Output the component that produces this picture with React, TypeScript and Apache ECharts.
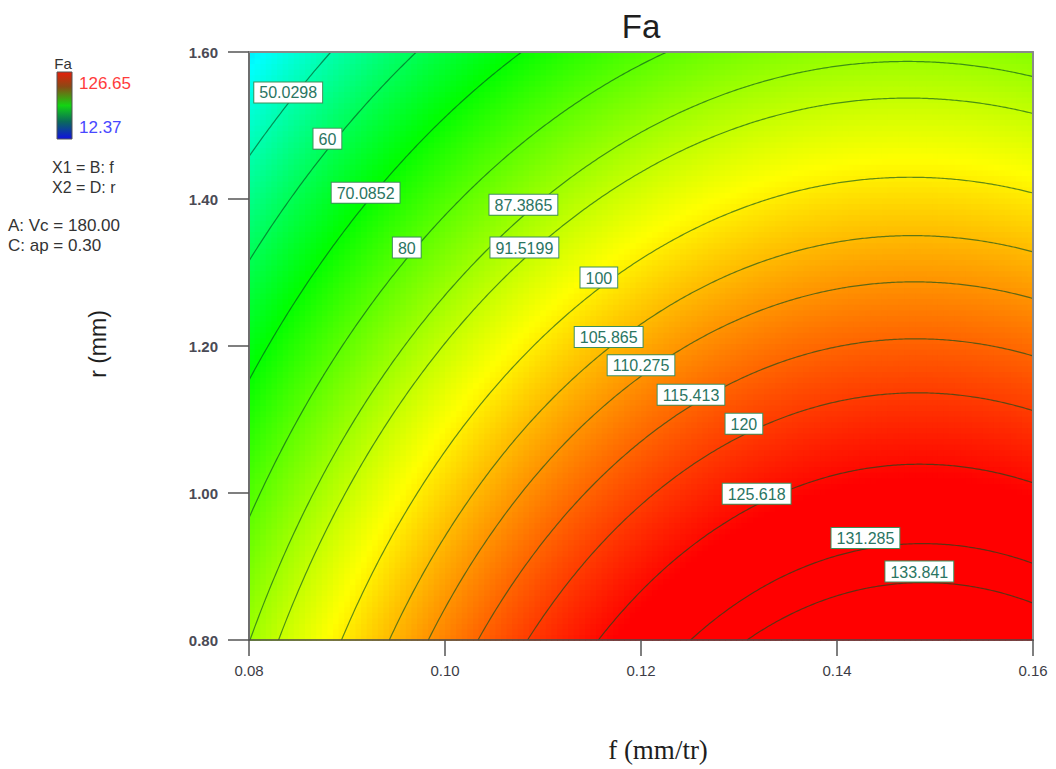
import React, { useEffect, useRef } from "react";
import * as echarts from "echarts";

// ---- data ----
const fValues = [0.08, 0.09, 0.1, 0.11, 0.12, 0.13, 0.14, 0.15, 0.16];
const rValues = [0.8, 0.9, 1.0, 1.1, 1.2, 1.3, 1.4, 1.5, 1.6];
// Fa at each (r row, f column)
const faGrid = [
  [87.24, 100.7, 112.06, 121.32, 128.47, 133.52, 136.48, 137.33, 136.08],
  [83.06, 96.47, 107.78, 116.98, 124.09, 129.09, 131.99, 132.79, 131.49],
  [78.35, 91.71, 102.96, 112.12, 119.17, 124.12, 126.97, 127.72, 126.37],
  [73.11, 86.42, 97.62, 106.73, 113.73, 118.63, 121.43, 122.13, 120.72],
  [67.34, 80.6, 91.75, 100.8, 107.75, 112.6, 115.35, 116.0, 114.55],
  [61.04, 74.25, 85.35, 94.35, 101.25, 106.05, 108.75, 109.35, 107.84],
  [54.22, 67.37, 78.42, 87.37, 94.22, 98.97, 101.62, 102.16, 100.61],
  [46.86, 59.96, 70.96, 79.86, 86.66, 91.36, 93.96, 94.45, 92.84],
  [38.97, 52.03, 62.98, 71.83, 78.57, 83.22, 85.77, 86.21, 84.55],
];
const contourLevels = [
  50.0298, 60, 70.0852, 80, 87.3865, 91.5199, 100, 105.865, 110.275, 115.413,
  120, 125.618, 131.285, 133.841,
];
const labelAtF = [
  0.084, 0.088, 0.0919, 0.0961, 0.108, 0.1081, 0.1157, 0.1167, 0.12, 0.1251,
  0.1305, 0.1318, 0.1429, 0.1484,
];
const xTickLabels = ["0.08", "0.10", "0.12", "0.14", "0.16"];
const yTickLabels = ["0.80", "1.00", "1.20", "1.40", "1.60"];
const legendMax = 126.65;
const legendMin = 12.37;
const factorNotes = ["X1 = B: f", "X2 = D: r"];
const actualFactors = ["A: Vc = 180.00", "C: ap = 0.30"];

// ---- helpers ----
const NF = fValues.length;
const NR = rValues.length;
const F0 = fValues[0];
const F1 = fValues[NF - 1];
const R0 = rValues[0];
const R1 = rValues[NR - 1];
const DFG = fValues[1] - fValues[0];
const DRG = rValues[1] - rValues[0];

function gridAt(i: number, j: number): number {
  if (i < 0) return 3 * gridAt(0, j) - 3 * gridAt(1, j) + gridAt(2, j);
  if (i > NF - 1) return 3 * gridAt(NF - 1, j) - 3 * gridAt(NF - 2, j) + gridAt(NF - 3, j);
  if (j < 0) return 3 * gridAt(i, 0) - 3 * gridAt(i, 1) + gridAt(i, 2);
  if (j > NR - 1) return 3 * gridAt(i, NR - 1) - 3 * gridAt(i, NR - 2) + gridAt(i, NR - 3);
  return faGrid[j][i];
}
function cr(p0: number, p1: number, p2: number, p3: number, t: number) {
  return 0.5 * (2 * p1 + (-p0 + p2) * t + (2 * p0 - 5 * p1 + 4 * p2 - p3) * t * t + (-p0 + 3 * p1 - 3 * p2 + p3) * t * t * t);
}
function faAt(f: number, r: number): number {
  const u = (f - F0) / DFG;
  const v = (r - R0) / DRG;
  const i = Math.min(Math.max(Math.floor(u), 0), NF - 2);
  const j = Math.min(Math.max(Math.floor(v), 0), NR - 2);
  const tu = u - i;
  const tv = v - j;
  const rows: number[] = [];
  for (let b = -1; b <= 2; b++) {
    rows.push(cr(gridAt(i - 1, j + b), gridAt(i, j + b), gridAt(i + 1, j + b), gridAt(i + 2, j + b), tu));
  }
  return cr(rows[0], rows[1], rows[2], rows[3], tv);
}
const colorStops: [number, number[]][] = [
  [0, [0, 0, 255]],
  [0.25, [0, 255, 255]],
  [0.5, [0, 255, 0]],
  [0.75, [255, 255, 0]],
  [1, [255, 0, 0]],
];
function colorOf(v: number): string {
  let t = (v - legendMin) / (legendMax - legendMin);
  t = Math.max(0, Math.min(1, t));
  for (let k = 0; k < colorStops.length - 1; k++) {
    const [a, ca] = colorStops[k];
    const [b, cb] = colorStops[k + 1];
    if (t <= b) {
      const s = (t - a) / (b - a);
      const c = ca.map((x, n) => Math.round(x + (cb[n] - x) * s));
      return `rgb(${c[0]},${c[1]},${c[2]})`;
    }
  }
  return "rgb(255,0,0)";
}
function rootR(f: number, level: number): number {
  let lo = R0;
  let hi = R1;
  for (let it = 0; it < 40; it++) {
    const m = (lo + hi) / 2;
    if (faAt(f, m) > level) lo = m;
    else hi = m;
  }
  return (lo + hi) / 2;
}
function hasRoot(f: number, level: number) {
  return faAt(f, R1) <= level && level <= faAt(f, R0);
}
function contourSegments(level: number): number[][][] {
  const N = 400;
  const segs: number[][][] = [];
  let cur: number[][] | null = null;
  let prevF = F0;
  let prevHas = hasRoot(F0, level);
  if (prevHas) cur = [[F0, rootR(F0, level)]];
  for (let k = 1; k <= N; k++) {
    const f = F0 + ((F1 - F0) * k) / N;
    const h = hasRoot(f, level);
    if (h !== prevHas) {
      let a = prevF;
      let b = f;
      for (let it = 0; it < 40; it++) {
        const m = (a + b) / 2;
        if (hasRoot(m, level) === prevHas) a = m;
        else b = m;
      }
      const fe = prevHas ? a : b;
      if (prevHas && cur) {
        cur.push([fe, rootR(fe, level)]);
        segs.push(cur);
        cur = null;
      } else {
        cur = [[fe, rootR(fe, level)]];
      }
    }
    if (h && cur) cur.push([f, rootR(f, level)]);
    prevF = f;
    prevHas = h;
  }
  if (cur) segs.push(cur);
  return segs;
}

const FONT = "Arial, 'Liberation Sans', sans-serif";
const SERIF = "'Times New Roman', 'Liberation Serif', serif";

export default function App() {
  const ref = useRef<HTMLDivElement>(null);
  useEffect(() => {
    if (!ref.current) return;
    const chart = echarts.init(ref.current, null, { renderer: "svg" });

    const NXC = 140;
    const NYC = 105;
    const cellF = (F1 - F0) / NXC;
    const cellR = (R1 - R0) / NYC;
    const cells: number[][] = [];
    for (let iy = 0; iy < NYC; iy++) {
      for (let ix = 0; ix < NXC; ix++) {
        const f = F0 + (ix + 0.5) * cellF;
        const r = R0 + (iy + 0.5) * cellR;
        cells.push([f, r, faAt(f, r)]);
      }
    }

    const lineSeries: any[] = [];
    contourLevels.forEach((lv) => {
      contourSegments(lv).forEach((seg) => {
        lineSeries.push({
          type: "line",
          data: seg,
          showSymbol: false,
          symbol: "none",
          silent: true,
          clip: true,
          z: 3,
          lineStyle: { color: "rgba(0,78,30,0.62)", width: 1.2 },
        });
      });
    });

    const labelData = contourLevels.map((lv, k) => [labelAtF[k], rootR(labelAtF[k], lv), lv]);

    const option: any = {
      animation: false,
      backgroundColor: "#ffffff",
      grid: { left: 249, top: 52, width: 784, height: 588, containLabel: false },
      xAxis: [
        {
          type: "value",
          min: 0.08,
          max: 0.16,
          interval: 0.02,
          position: "bottom",
          z: 10,
          axisLine: { show: true, onZero: false, lineStyle: { color: "#4a4a4a", width: 1.5 } },
          axisTick: { show: true, length: 16, lineStyle: { color: "#555", width: 1.5 } },
          axisLabel: {
            margin: 23,
            fontSize: 15,
            fontFamily: FONT,
            color: "#3c3c46",
            formatter: (v: number) => xTickLabels[Math.round((v - 0.08) / 0.02)] ?? v.toFixed(2),
          },
          splitLine: { show: false },
        },
        {
          type: "value",
          min: 0.08,
          max: 0.16,
          interval: 0.02,
          position: "top",
          z: 10,
          axisLine: { show: true, onZero: false, lineStyle: { color: "#8a8a8a", width: 2 } },
          axisTick: { show: false },
          axisLabel: { show: false },
          splitLine: { show: false },
        },
      ],
      yAxis: [
        {
          type: "value",
          min: 0.8,
          max: 1.6,
          interval: 0.2,
          position: "left",
          z: 10,
          axisLine: { show: true, onZero: false, lineStyle: { color: "#6e6e6e", width: 2 } },
          axisTick: { show: true, length: 21, lineStyle: { color: "#555", width: 1.5 } },
          axisLabel: {
            margin: 31,
            fontSize: 15,
            fontWeight: "bold",
            fontFamily: FONT,
            color: "#4a4a55",
            formatter: (v: number) => yTickLabels[Math.round((v - 0.8) / 0.2)] ?? v.toFixed(2),
          },
          splitLine: { show: false },
        },
        {
          type: "value",
          min: 0.8,
          max: 1.6,
          interval: 0.2,
          position: "right",
          z: 10,
          axisLine: { show: true, onZero: false, lineStyle: { color: "#8a8a8a", width: 2 } },
          axisTick: { show: false },
          axisLabel: { show: false },
          splitLine: { show: false },
        },
      ],
      series: [
        {
          type: "custom",
          name: "Fa",
          data: cells,
          encode: { x: 0, y: 1 },
          clip: true,
          silent: true,
          z: 1,
          renderItem: (params: any, api: any) => {
            const f = api.value(0);
            const r = api.value(1);
            const v = api.value(2);
            const a = api.coord([f - cellF / 2, r + cellR / 2]);
            const b = api.coord([f + cellF / 2, r - cellR / 2]);
            return {
              type: "rect",
              shape: { x: a[0], y: a[1], width: b[0] - a[0] + 0.8, height: b[1] - a[1] + 0.8 },
              style: { fill: colorOf(v) },
            };
          },
        },
        ...lineSeries,
        {
          type: "scatter",
          data: labelData,
          symbolSize: 0,
          silent: true,
          z: 6,
          itemStyle: { opacity: 1 },
          label: {
            show: true,
            position: "top",
            distance: 1,
            opacity: 1,
            formatter: (p: any) => String(p.value[2]),
            fontSize: 16,
            fontFamily: FONT,
            color: "#2a7562",
            backgroundColor: "#ffffff",
            borderColor: "#3f8f5a",
            borderWidth: 1,
            padding: [2, 5, 1, 5],
            lineHeight: 17,
          },
          emphasis: { disabled: true },
        },
      ],
      graphic: [
        {
          type: "text",
          x: 641,
          y: 26,
          style: { text: "Fa", fontSize: 33, fontFamily: FONT, fill: "#1e1e1e", align: "center", verticalAlign: "middle" },
        },
        {
          type: "text",
          x: 658,
          y: 750,
          style: { text: "f (mm/tr)", fontSize: 27, fontFamily: SERIF, fill: "#1e1e1e", align: "center", verticalAlign: "middle" },
        },
        {
          type: "text",
          x: 98,
          y: 344,
          rotation: Math.PI / 2,
          style: { text: "r (mm)", fontSize: 23, fontFamily: FONT, fill: "#1e1e1e", align: "center", verticalAlign: "middle" },
        },
        {
          type: "text",
          x: 63,
          y: 63,
          style: { text: "Fa", fontSize: 15, fontFamily: FONT, fill: "#333", align: "center", verticalAlign: "middle" },
        },
        {
          type: "rect",
          shape: { x: 57, y: 72, width: 15, height: 67 },
          style: {
            fill: new echarts.graphic.LinearGradient(0, 0, 0, 1, [
              { offset: 0, color: "#e61e0a" },
              { offset: 0.22, color: "#8a4a14" },
              { offset: 0.5, color: "#12d412" },
              { offset: 0.74, color: "#0a6a5a" },
              { offset: 1, color: "#1010e0" },
            ]),
            stroke: "#555",
            lineWidth: 1,
          },
        },
        {
          type: "text",
          x: 79,
          y: 83,
          style: { text: legendMax.toFixed(2), fontSize: 17, fontFamily: FONT, fill: "#ff3b3b", align: "left", verticalAlign: "middle" },
        },
        {
          type: "text",
          x: 79,
          y: 127,
          style: { text: legendMin.toFixed(2), fontSize: 17, fontFamily: FONT, fill: "#4848ff", align: "left", verticalAlign: "middle" },
        },
        ...factorNotes.map((t, k) => ({
          type: "text",
          x: 52,
          y: 167 + k * 20,
          style: { text: t, fontSize: 16, fontFamily: FONT, fill: "#333", align: "left", verticalAlign: "middle" },
        })),
        ...actualFactors.map((t, k) => ({
          type: "text",
          x: 8,
          y: 225 + k * 20,
          style: { text: t, fontSize: 17, fontFamily: FONT, fill: "#333", align: "left", verticalAlign: "middle" },
        })),
      ],
    };
    chart.setOption(option);
    return () => chart.dispose();
  }, []);
  return (
    <div
      ref={ref}
      style={{ position: "fixed", left: 0, top: 0, width: 1056, height: 769, background: "#ffffff" }}
    />
  );
}
